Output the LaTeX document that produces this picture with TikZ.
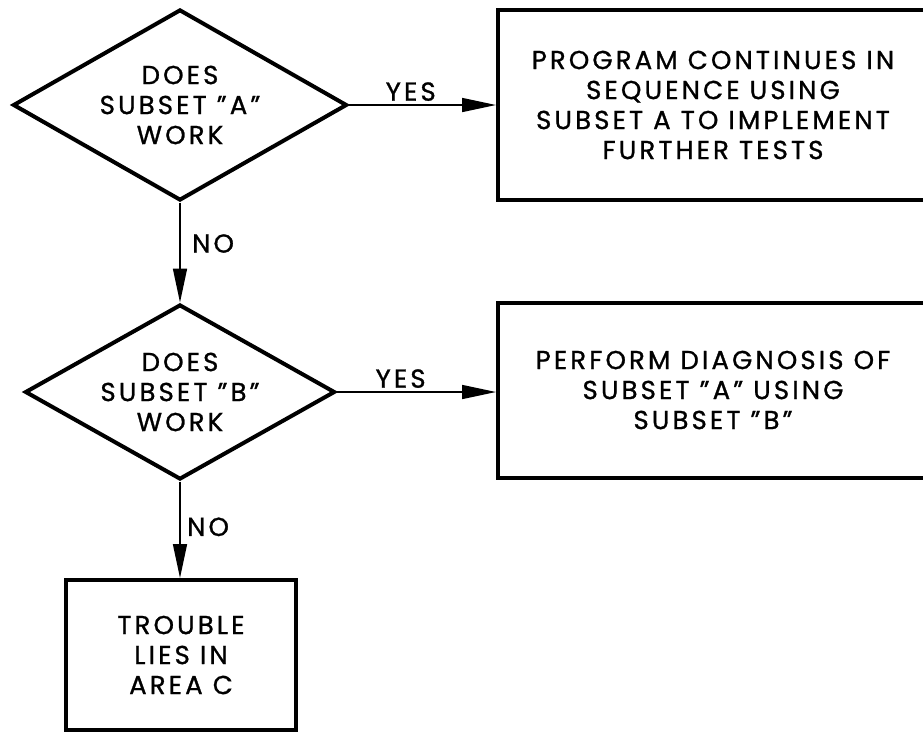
\documentclass[tikz,border=0pt]{standalone}
\usepackage{fontspec}
\setmainfont{Poppins}[FakeBold=1,LetterSpace=12]
\usetikzlibrary{shapes.geometric,arrows.meta}

\begin{document}
\begin{tikzpicture}[
    x=1pt, y=-1pt,
    box/.style={
        draw,
        line width=4pt,
        align=center,
        font=\fontsize{26}{30}\selectfont
    },
    decision/.style={
        draw,
        diamond,
        aspect=1.75,
        line width=4pt,
        align=center,
        inner sep=0pt,
        font=\fontsize{26}{30}\selectfont
    },
    arrow/.style={
        -{Triangle[length=34pt,width=14pt]},
        line width=1.6pt
    },
    answer/.style={
        font=\fontsize{26}{30}\selectfont
    }
]
\useasboundingbox (0,0) rectangle (923,732);
\node[decision, minimum width=334pt, minimum height=191pt] (DA) at (180,105)
{DOES\\
SUBSET "A"\\
WORK};
\node[decision, minimum width=310pt, minimum height=175pt] (DB) at (180,392)
{DOES\\
SUBSET "B"\\
WORK};
\node[box, minimum width=430pt, minimum height=190pt] (Go) at (713,105)
{PROGRAM CONTINUES IN\\
SEQUENCE USING\\
SUBSET A TO IMPLEMENT\\
FURTHER TESTS};
\node[box, minimum width=430pt, minimum height=175pt] (Diag) at (713,390)
{PERFORM DIAGNOSIS OF\\
SUBSET "A" USING\\
SUBSET "B"};
\node[box, minimum width=230pt, minimum height=150pt] (C) at (181,655)
{TROUBLE\\
LIES IN\\
AREA C};
\draw[arrow] (DA.east) -- (DA.east -| Go.west)
    node[answer, above, pos=0.42] {YES};
\draw[arrow] (DA.south) -- (DB.north)
    node[answer, right, pos=0.41, xshift=8pt] {NO};
\draw[arrow] (DB.east) -- (DB.east -| Diag.west)
    node[answer, above, pos=0.4] {YES};
\draw[arrow] (DB.south) -- (DB.south |- C.north)
    node[answer, right, pos=0.47, xshift=3pt] {NO};
\end{tikzpicture}
\end{document}
